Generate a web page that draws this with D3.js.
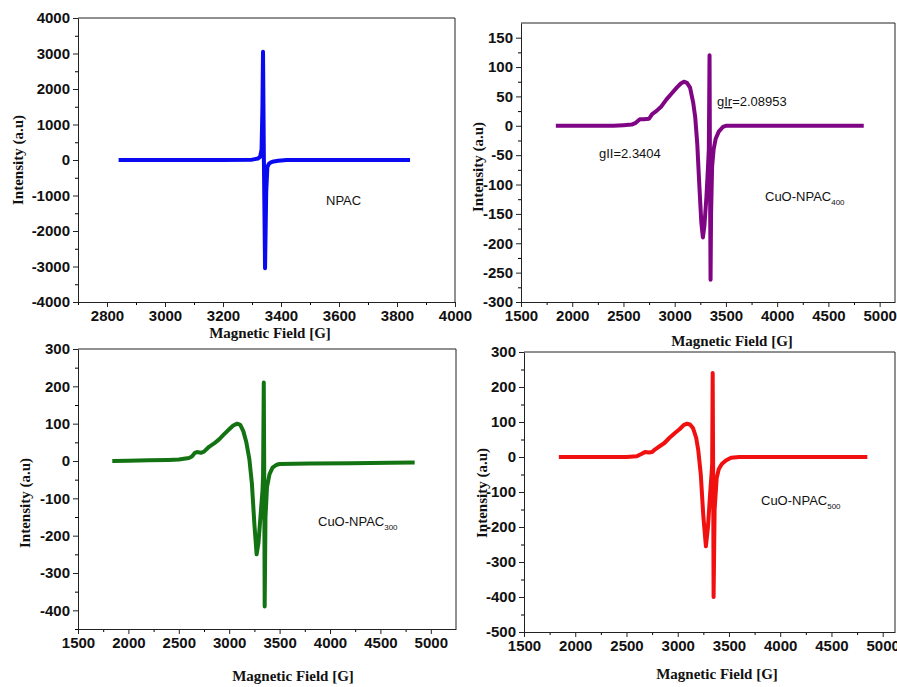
<!DOCTYPE html>
<html>
<head>
<meta charset="utf-8">
<script src="https://cdn.jsdelivr.net/npm/d3@7/dist/d3.min.js"></script>
<style>
  body { margin: 0; background: #fff; }
  svg { display: block; }
</style>
</head>
<body>
<svg id="chart" width="897" height="687"></svg>
<script>
// NPAC
var npacField = [2840, 3000, 3200, 3300, 3320, 3328, 3333, 3336, 3338, 3341, 3345, 3349, 3353, 3358, 3365, 3375, 3390, 3420, 3600, 3845];
var npacInt   = [0, 0, 0, 10, 40, 90, 300, 1500, 3050, 0, -3050, -900, -200, -110, -70, -40, -20, 0, 0, 0];

// CuO-NPAC400
var cuo400Field = [1840, 2200, 2400, 2500, 2580, 2620, 2660, 2700, 2750, 2780, 2820, 2870, 2920, 2970, 3020, 3060, 3090, 3120, 3150, 3180, 3200, 3220, 3240, 3260, 3275, 3290, 3310, 3325, 3333, 3340, 3345, 3350, 3355, 3365, 3380, 3400, 3430, 3470, 3500, 3600, 4000, 4500, 4845];
var cuo400Int   = [0, 0, 0, 1, 2, 5, 11, 11, 12, 20, 25, 33, 45, 55, 65, 72, 75, 73, 65, 40, 15, -30, -100, -165, -190, -170, -120, -70, -40, 120, -100, -262, -150, -70, -40, -22, -10, -2, 0, 0, 0, 0, 0];

// CuO-NPAC300
var cuo300Field = [1840, 2000, 2200, 2400, 2500, 2600, 2630, 2660, 2680, 2720, 2750, 2800, 2850, 2900, 2950, 3000, 3040, 3080, 3110, 3140, 3170, 3200, 3225, 3250, 3272, 3290, 3310, 3330, 3336, 3343, 3347, 3352, 3360, 3375, 3400, 3430, 3470, 3500, 3800, 4200, 4600, 4840];
var cuo300Int   = [0, 1, 2, 3, 4, 8, 12, 22, 24, 22, 25, 38, 47, 58, 72, 85, 95, 100, 97, 80, 50, 5, -60, -170, -250, -220, -150, -80, -40, 210, 0, -390, -150, -70, -35, -18, -10, -8, -7, -6, -5, -4];

// CuO-NPAC500
var cuo500Field = [1840, 2200, 2500, 2600, 2640, 2680, 2720, 2750, 2780, 2820, 2870, 2920, 2970, 3020, 3060, 3090, 3120, 3150, 3180, 3200, 3225, 3250, 3275, 3295, 3315, 3332, 3336, 3341, 3345, 3350, 3360, 3380, 3400, 3430, 3470, 3520, 3600, 4200, 4850];
var cuo500Int   = [0, 0, 0, 2, 8, 14, 13, 14, 22, 30, 40, 55, 68, 80, 92, 95, 93, 82, 55, 20, -50, -170, -255, -200, -110, -40, -20, 240, 0, -400, -150, -60, -35, -20, -10, -2, 0, 0, 0];

var npacXTicks = [2800, 3000, 3200, 3400, 3600, 3800, 4000];
var npacYTicks = [-4000, -3000, -2000, -1000, 0, 1000, 2000, 3000, 4000];
var cuoXTicks = [1500, 2000, 2500, 3000, 3500, 4000, 4500, 5000];
var cuo400YTicks = [-300, -250, -200, -150, -100, -50, 0, 50, 100, 150];
var cuo300YTicks = [-400, -300, -200, -100, 0, 100, 200, 300];
var cuo500YTicks = [-500, -400, -300, -200, -100, 0, 100, 200, 300];

var svg = d3.select("#chart");

function drawPanel(p) {
    var x = d3.scaleLinear().domain(p.xDomain).range([p.left, p.right]);
    var y = d3.scaleLinear().domain(p.yDomain).range([p.bottom, p.top]);

    var g = svg.append("g");

    // frame
    g.append("path")
        .attr("d", "M" + p.left + "," + p.top + "H" + p.right + "V" + p.bottom)
        .attr("fill", "none")
        .attr("stroke", "#222")
        .attr("stroke-width", 1);

    // minor ticks
    g.append("g")
        .attr("transform", "translate(0," + p.bottom + ")")
        .call(d3.axisBottom(x).tickValues(p.xMinor).tickSize(3).tickFormat(""))
        .call(function(a) { a.select(".domain").remove(); });
    g.append("g")
        .attr("transform", "translate(" + p.left + ",0)")
        .call(d3.axisLeft(y).tickValues(p.yMinor).tickSize(3).tickFormat(""))
        .call(function(a) { a.select(".domain").remove(); });

    var xAxisGroup = g.append("g")
        .attr("transform", "translate(0," + p.bottom + ")")
        .call(d3.axisBottom(x).tickValues(p.xTicks).tickSize(5).tickSizeOuter(0).tickFormat(String));
    var yAxisGroup = g.append("g")
        .attr("transform", "translate(" + p.left + ",0)")
        .call(d3.axisLeft(y).tickValues(p.yTicks).tickSize(5).tickSizeOuter(0).tickFormat(String));

    [xAxisGroup, yAxisGroup].forEach(function(a) {
        a.selectAll("text")
            .attr("font-family", "'Liberation Sans', Arial, sans-serif")
            .attr("font-weight", "bold")
            .attr("font-size", "15px")
            .attr("fill", "#111");
        a.selectAll("line, path").attr("stroke", "#222");
    });

    var line = d3.line()
        .x(function(d) { return x(d[0]); })
        .y(function(d) { return y(d[1]); });

    var pts = p.field.map(function(f, i) { return [f, p.intensity[i]]; });

    g.append("path")
        .datum(pts)
        .attr("fill", "none")
        .attr("stroke", p.color)
        .attr("stroke-width", 4)
        .attr("stroke-linejoin", "round")
        .attr("d", line);

    // axis titles
    g.append("text")
        .attr("x", p.xLabelX)
        .attr("y", p.xLabelY)
        .attr("text-anchor", "middle")
        .attr("font-family", "'Liberation Serif', 'Times New Roman', serif")
        .attr("font-weight", "bold")
        .attr("font-size", "15px")
        .attr("fill", "#111")
        .text("Magnetic Field [G]");

    g.append("text")
        .attr("transform", "translate(" + p.yLabelX + "," + p.yLabelY + ") rotate(-90)")
        .attr("text-anchor", "middle")
        .attr("dy", "0.35em")
        .attr("font-family", "'Liberation Serif', 'Times New Roman', serif")
        .attr("font-weight", "bold")
        .attr("font-size", "15px")
        .attr("fill", "#111")
        .text("Intensity (a.u)");

    // sample label
    var lab = g.append("text")
        .attr("x", p.nameX)
        .attr("y", p.nameY)
        .attr("font-family", "'Liberation Sans', Arial, sans-serif")
        .attr("font-size", "13px")
        .attr("fill", "#111")
        .text(p.name);
    if (p.sub) {
        lab.append("tspan")
            .attr("font-size", "8px")
            .attr("dy", "4")
            .text(p.sub);
    }
    return { x: x, y: y, g: g };
}

drawPanel({
    left: 78, right: 455, top: 18, bottom: 302,
    xDomain: [2700, 4000], yDomain: [-4000, 4000],
    xTicks: npacXTicks, yTicks: npacYTicks,
    xMinor: d3.range(2700, 4000, 100), yMinor: d3.range(-3500, 4000, 1000),
    field: npacField, intensity: npacInt, color: "#0a0af0",
    xLabelX: 270, xLabelY: 338, yLabelX: 18, yLabelY: 160,
    nameX: 326, nameY: 205, name: "NPAC"
});

var p400 = drawPanel({
    left: 521, right: 895, top: 23, bottom: 302,
    xDomain: [1500, 5150], yDomain: [-300, 175],
    xTicks: cuoXTicks, yTicks: cuo400YTicks,
    xMinor: d3.range(1750, 5150, 500), yMinor: d3.range(-275, 175, 50),
    field: cuo400Field, intensity: cuo400Int, color: "#800585",
    xLabelX: 732, xLabelY: 346, yLabelX: 478, yLabelY: 167,
    nameX: 765, nameY: 201, name: "CuO-NPAC", sub: "400"
});

drawPanel({
    left: 78, right: 456, top: 349, bottom: 629,
    xDomain: [1500, 5250], yDomain: [-450, 300],
    xTicks: cuoXTicks, yTicks: cuo300YTicks,
    xMinor: d3.range(1750, 5250, 500), yMinor: d3.range(-450, 300, 100),
    field: cuo300Field, intensity: cuo300Int, color: "#137313",
    xLabelX: 293, xLabelY: 681, yLabelX: 25, yLabelY: 503,
    nameX: 318, nameY: 526, name: "CuO-NPAC", sub: "300"
});

drawPanel({
    left: 524, right: 895, top: 352, bottom: 632,
    xDomain: [1500, 5120], yDomain: [-500, 300],
    xTicks: cuoXTicks, yTicks: cuo500YTicks,
    xMinor: d3.range(1750, 5120, 500), yMinor: d3.range(-450, 300, 100),
    field: cuo500Field, intensity: cuo500Int, color: "#f01010",
    xLabelX: 717, xLabelY: 679, yLabelX: 482, yLabelY: 493,
    nameX: 761, nameY: 505, name: "CuO-NPAC", sub: "500"
});

// g-value annotations on the 400 panel
var gPerp = p400.g.append("text")
    .attr("x", 717)
    .attr("y", 106)
    .attr("font-family", "'Liberation Sans', Arial, sans-serif")
    .attr("font-size", "13px")
    .attr("fill", "#111");
gPerp.append("tspan").text("g");
gPerp.append("tspan").attr("text-decoration", "underline").text("Ir");
gPerp.append("tspan").text("=2.08953");

p400.g.append("text")
    .attr("x", 599)
    .attr("y", 158)
    .attr("font-family", "'Liberation Sans', Arial, sans-serif")
    .attr("font-size", "13px")
    .attr("fill", "#111")
    .text("gII=2.3404");
</script>
</body>
</html>
